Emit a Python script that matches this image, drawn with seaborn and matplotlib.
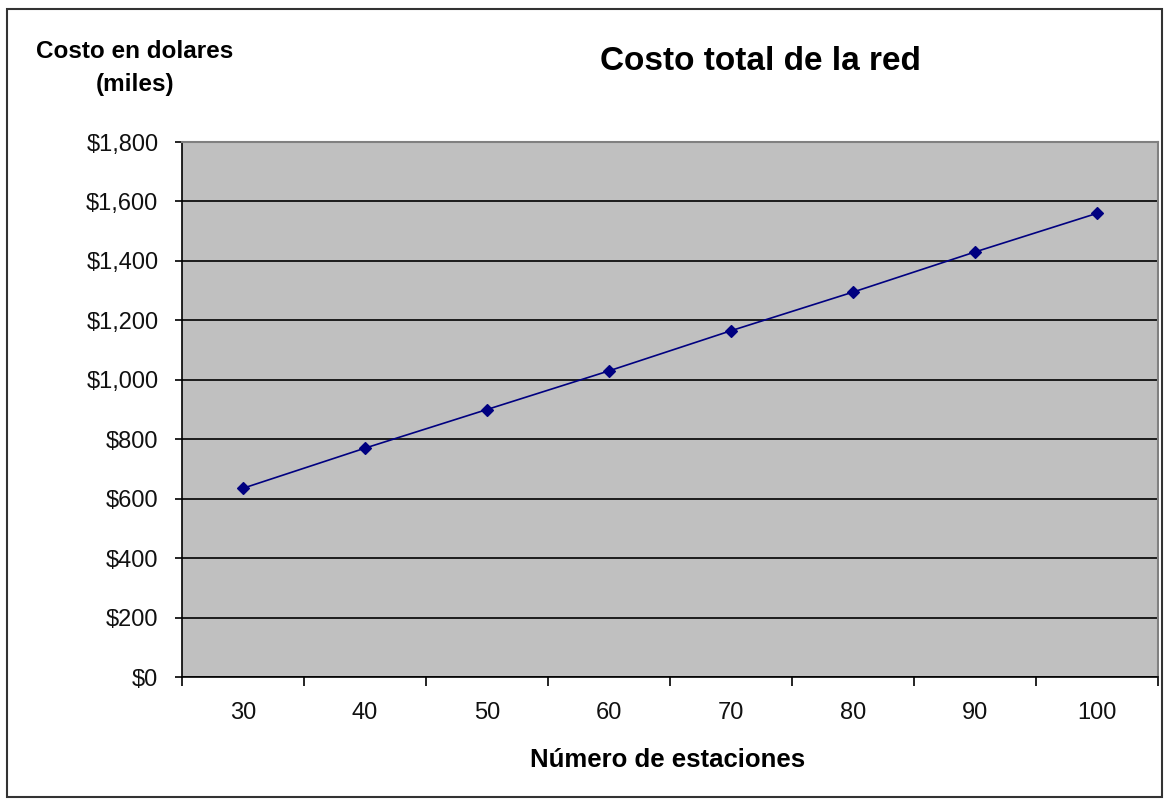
import numpy as np
import pandas as pd
import matplotlib
matplotlib.use("Agg")
import matplotlib.pyplot as plt
from matplotlib.ticker import FuncFormatter, FixedLocator
import seaborn as sns

# Datos
estaciones = ["30", "40", "50", "60", "70", "80", "90", "100"]
costo_miles = [635, 770, 900, 1030, 1165, 1295, 1430, 1560]

df = pd.DataFrame({"Estaciones": estaciones, "Costo": costo_miles})

sns.set_theme(style="white")
plt.rcParams["font.family"] = ["Liberation Sans", "DejaVu Sans"]

fig = plt.figure(figsize=(11.66, 8), dpi=100)
ax = fig.add_axes([182 / 1166, 123 / 800, 976 / 1166, 535 / 800])
ax.set_facecolor("#C0C0C0")

sns.pointplot(
    data=df, x="Estaciones", y="Costo", ax=ax,
    color="#000080", markers="D", markersize=6, linewidth=1.2,
    errorbar=None,
)

# Eje Y
ax.set_ylim(0, 1800)
ax.set_yticks(np.arange(0, 1801, 200))
ax.yaxis.set_major_formatter(FuncFormatter(lambda v, p: f"${v:,.0f}"))
ax.grid(axis="y", color="black", linewidth=1.2)
ax.set_axisbelow(True)

# Eje X: marcas entre categorias, etiquetas centradas
n = len(estaciones)
ax.set_xlim(-0.5, n - 0.5)
ax.xaxis.set_major_locator(FixedLocator(np.arange(-0.5, n, 1.0)))
ax.xaxis.set_minor_locator(FixedLocator(np.arange(n)))
ax.set_xticklabels([])
ax.set_xticklabels(estaciones, minor=True)
ax.tick_params(axis="x", which="major", length=6.5, width=1.2, color="black", direction="out", bottom=True)
ax.tick_params(axis="x", which="minor", length=0, pad=18, labelsize=17, labelcolor="#111111")
ax.tick_params(axis="y", length=5, width=1.2, color="black", direction="out", left=True, pad=12,
               labelsize=17, labelcolor="#111111")

ax.set_xlabel("")
ax.set_ylabel("")

for side in ["top", "right"]:
    ax.spines[side].set_color("#808080")
    ax.spines[side].set_linewidth(1.5)
for side in ["left", "bottom"]:
    ax.spines[side].set_color("black")
    ax.spines[side].set_linewidth(1.2)

# Textos
fig.text(760 / 1166, 1 - 61 / 800, "Costo total de la red", ha="center", va="center",
         fontsize=24, fontweight="bold", color="black")
fig.text(135 / 1166, 1 - 68 / 800, "Costo en dolares\n(miles)", ha="center", va="center",
         fontsize=17.5, fontweight="bold", color="black", linespacing=1.55)
fig.text(668 / 1166, 1 - 760 / 800, "Número de estaciones", ha="center", va="center",
         fontsize=18.5, fontweight="bold", color="black")

# Borde de la figura
fig.patches.append(plt.Rectangle((7 / 1166, 3 / 800), 1155 / 1166, 788 / 800,
                                 transform=fig.transFigure, fill=False,
                                 edgecolor="#333333", linewidth=1.5))

fig.savefig("out.png", dpi=100)
